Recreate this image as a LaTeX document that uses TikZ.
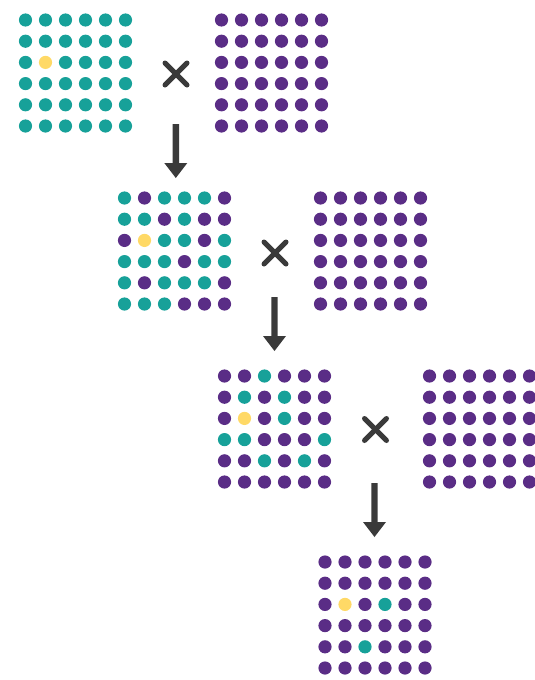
\documentclass[tikz,border=0pt]{standalone}
\definecolor{colT}{HTML}{17A199}
\definecolor{colP}{HTML}{5A2D86}
\definecolor{colY}{HTML}{FFD966}
\definecolor{dark}{HTML}{3A3A3A}
\tikzset{
  timesmark/.style={draw=dark, line width=5pt, line cap=round},
  arrowbody/.style={fill=dark}
}
\newcommand{\dotgrid}[3]{% x0, y0, rows
  \foreach \rw [count=\r from 0] in {#3} {
    \foreach \cc [count=\k from 0] in \rw {
      \fill[col\cc] ({#1+20*\k},{#2+21.2*\r}) circle (6.6);
    }
  }
}
\newcommand{\timesat}[2]{%
  \draw[timesmark] ({#1-11},{#2-11}) -- ({#1+11},{#2+11});
  \draw[timesmark] ({#1-11},{#2+11}) -- ({#1+11},{#2-11});
}
\newcommand{\dnarrow}[3]{% x, ytop, ybottom
  \fill[arrowbody] ({#1-3.2},{#2}) -- ({#1+3.2},{#2}) -- ({#1+3.2},{#3-15}) -- ({#1+11.5},{#3-15}) -- ({#1},{#3}) -- ({#1-11.5},{#3-15}) -- ({#1-3.2},{#3-15}) -- cycle;
}
\begin{document}
\begin{tikzpicture}[x=1pt,y=-1pt]
\useasboundingbox (0,0) rectangle (535,680);
% row 1
\dotgrid{25.5}{20}{{T,T,T,T,T,T},{T,T,T,T,T,T},{T,Y,T,T,T,T},{T,T,T,T,T,T},{T,T,T,T,T,T},{T,T,T,T,T,T}}
\timesat{176}{74}
\dotgrid{221.5}{20}{{P,P,P,P,P,P},{P,P,P,P,P,P},{P,P,P,P,P,P},{P,P,P,P,P,P},{P,P,P,P,P,P},{P,P,P,P,P,P}}
\dnarrow{175.8}{124}{178}
% row 2
\dotgrid{124.5}{198}{{T,P,T,T,T,P},{T,T,P,T,P,P},{P,Y,T,T,P,T},{T,T,T,P,T,T},{T,P,T,T,T,P},{T,T,T,P,P,P}}
\timesat{275}{253}
\dotgrid{320.5}{198}{{P,P,P,P,P,P},{P,P,P,P,P,P},{P,P,P,P,P,P},{P,P,P,P,P,P},{P,P,P,P,P,P},{P,P,P,P,P,P}}
\dnarrow{274.5}{297}{351}
% row 3
\dotgrid{224.5}{376}{{P,P,T,P,P,P},{P,T,P,T,P,P},{P,Y,P,T,P,P},{T,T,P,P,P,T},{P,P,T,P,T,P},{P,P,P,P,P,P}}
\timesat{375.5}{429.5}
\dotgrid{429.5}{376}{{P,P,P,P,P,P},{P,P,P,P,P,P},{P,P,P,P,P,P},{P,P,P,P,P,P},{P,P,P,P,P,P},{P,P,P,P,P,P}}
\dnarrow{374.5}{483}{537}
% row 4
\dotgrid{325}{562}{{P,P,P,P,P,P},{P,P,P,P,P,P},{P,Y,P,T,P,P},{P,P,P,P,P,P},{P,P,T,P,P,P},{P,P,P,P,P,P}}
\end{tikzpicture}
\end{document}
